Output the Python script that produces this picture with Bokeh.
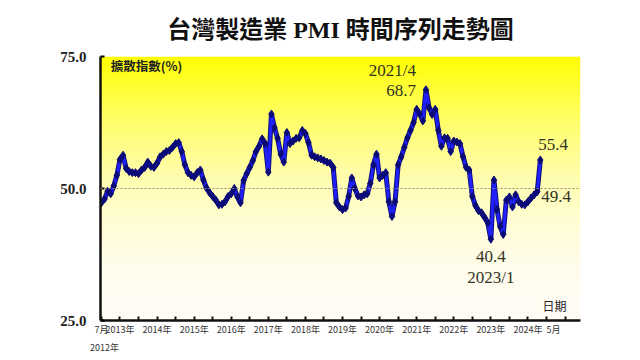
from bokeh.plotting import figure
from bokeh.models import Range1d, Span, Label, FixedTicker, LinearAxis
from bokeh.embed import file_html
from bokeh.resources import INLINE
import numpy as np

# Monthly PMI, 2012-07 .. 2024-05 (index 0 = 2012-07)
pmi = [
    47.3, 48.0, 49.5, 49.0, 50.5, 52.5,                                  # 2012 Jul-Dec
    55.5, 56.3, 53.8, 53.2, 53.0, 53.0, 52.8, 53.5, 54.0, 55.0, 54.2, 54.0,  # 2013
    54.8, 56.0, 56.5, 57.0, 57.2, 57.8, 58.5, 58.7, 57.0, 54.5, 53.0, 52.5,  # 2014
    52.2, 53.0, 53.5, 51.6, 50.1, 49.2, 48.5, 47.8, 46.9, 47.0, 47.5, 48.5,  # 2015
    49.0, 50.0, 48.4, 47.3, 51.5, 52.8, 54.0, 55.3, 57.0, 58.0, 59.4, 58.5,  # 2016
    53.1, 64.1, 61.5, 59.5, 56.5, 55.0, 60.6, 58.5, 59.0, 59.5, 59.6, 61.0,  # 2017
    60.4, 58.7, 56.3, 56.0, 55.8, 55.6, 55.3, 55.0, 54.8, 54.0, 47.3, 46.5,  # 2018
    46.0, 46.3, 48.5, 52.0, 50.0, 48.6, 48.4, 48.8, 49.0, 51.0, 54.5, 56.5,  # 2019
    52.0, 52.5, 53.0, 47.5, 44.7, 47.5, 54.5, 56.0, 57.8, 59.6, 61.0, 62.5,  # 2020
    65.0, 64.1, 62.8, 68.7, 65.3, 64.0, 65.0, 61.0, 58.0, 59.6, 59.5, 57.0,  # 2021
    59.0, 58.8, 58.5, 56.0, 54.0, 53.5, 48.5, 46.8, 45.8, 45.4, 44.5, 43.5,  # 2022
    40.4, 51.6, 46.0, 42.8, 41.3, 47.8, 48.4, 46.5, 48.8, 47.5, 47.0, 46.9,  # 2023
    47.5, 48.2, 48.8, 49.4, 55.4,                                          # 2024 Jan-May
]
months = list(range(len(pmi)))

tick_years = list(range(2013, 2025))
tick_year_labels = [f"{y}年" for y in tick_years]
first_month_label = "7月"
first_year_label = "2012年"
last_month_label = "5月"
y_ticks = [25, 50, 75]
y_tick_labels = ["25.0", "50.0", "75.0"]

peak_i = int(np.argmax(pmi))
low_i = int(np.argmin(pmi))
last_i = len(pmi) - 1
prev_i = len(pmi) - 2
peak_date = "2021/4"
low_date = "2023/1"

serif = "'Liberation Serif', 'Noto Sans CJK TC', serif"
cjk = "'Noto Sans CJK TC', sans-serif"
ann_color = "#33331f"

p = figure(width=632, height=356, output_backend="svg", toolbar_location=None,
           x_range=Range1d(-0.3, 155), y_range=Range1d(25, 75),
           min_border_left=100, min_border_right=52, min_border_top=55,
           min_border_bottom=34)
p.background_fill_color = "white"
p.border_fill_color = "white"
p.outline_line_color = None
p.xgrid.visible = False
p.ygrid.visible = False

p.title.text = "台灣製造業 PMI 時間序列走勢圖"
p.title.text_font = serif
p.title.text_font_size = "24px"
p.title.text_font_style = "bold"
p.title.text_color = "#111111"
p.title.align = "center"
p.title.offset = 2
p.title.standoff = 28

# gradient background (yellow top -> near white bottom)
H = 200
t = np.linspace(0, 1, H)
b = (245 * (1 - t ** 2)).astype(np.uint8)
g = (255 - 3 * (1 - t)).astype(np.uint8)
img = np.zeros((H, 2, 4), dtype=np.uint8)
img[:, :, 0] = 255
img[:, :, 1] = g[:, None]
img[:, :, 2] = b[:, None]
img[:, :, 3] = 255
p.image_rgba(image=[img.view(np.uint32).reshape(H, 2)], x=-0.3, y=25, dw=155.3, dh=50)

p.add_layout(Span(location=50, dimension="width", line_color="#9a8a70",
                  line_dash="2 2", line_width=1))

# series
p.line(months, pmi, line_color="#10107a", line_width=5)
p.line(months, pmi, line_color="#2020ff", line_width=3)
p.scatter(months, pmi, marker="diamond", size=8, fill_color="#0b0b78",
          line_color="#0b0b78")

# main x axis: line + inward ticks every 6 months, no labels
xticks = [m for m in range(0, 156, 6)]
p.xaxis.ticker = FixedTicker(ticks=xticks)
p.xaxis.major_label_overrides = {m: "" for m in xticks}
p.xaxis.major_label_text_font_size = "1px"
p.xaxis.major_label_standoff = 0
p.xaxis.axis_line_width = 2.5
p.xaxis.axis_line_color = "#111111"
p.xaxis.major_tick_in = 4
p.xaxis.major_tick_out = 0
p.xaxis.major_tick_line_width = 2
p.xaxis.major_tick_line_color = "#111111"
p.xaxis.minor_tick_line_color = None

# label rows under the axis
label_pos = [0] + [(y - 2012) * 12 - 6 for y in tick_years] + [146.3]
label_txt = [first_month_label] + tick_year_labels + [last_month_label]
row1 = LinearAxis(ticker=FixedTicker(ticks=label_pos),
                  major_label_overrides={k: v for k, v in zip(label_pos, label_txt)},
                  axis_line_color=None, major_tick_line_color=None,
                  minor_tick_line_color=None, major_tick_in=0, major_tick_out=0,
                  major_label_standoff=2, major_label_text_font=cjk,
                  major_label_text_font_size="9px", major_label_text_color="#333333")
p.add_layout(row1, "below")
row2 = LinearAxis(ticker=FixedTicker(ticks=[1]),
                  major_label_overrides={1: first_year_label},
                  axis_line_color=None, major_tick_line_color=None,
                  minor_tick_line_color=None, major_tick_in=0, major_tick_out=0,
                  major_label_standoff=2, major_label_text_font=cjk,
                  major_label_text_font_size="9px", major_label_text_color="#333333")
p.add_layout(row2, "below")

p.yaxis.ticker = FixedTicker(ticks=y_ticks)
p.yaxis.major_label_overrides = {v: s for v, s in zip(y_ticks, y_tick_labels)}
p.yaxis.axis_line_width = 2.5
p.yaxis.axis_line_color = "#111111"
p.yaxis.major_tick_in = 4
p.yaxis.major_tick_out = 0
p.yaxis.major_tick_line_width = 2
p.yaxis.minor_tick_line_color = None
p.yaxis.major_label_text_font = serif
p.yaxis.major_label_text_font_size = "15px"
p.yaxis.major_label_text_font_style = "bold"
p.yaxis.major_label_text_color = "#222222"
p.yaxis.major_label_standoff = 14

# in-plot labels
p.add_layout(Label(x=3, y=75, text="擴散指數(%)", x_offset=0, y_offset=-9,
                   text_align="left", text_baseline="middle",
                   text_font=cjk, text_font_size="12.5px", text_font_style="bold",
                   text_color="#222222"))
p.add_layout(Label(x=155, y=25, text="日期", x_offset=-14, y_offset=15,
                   text_align="right", text_baseline="middle",
                   text_font=cjk, text_font_size="12px", text_color="#222222"))

# annotations
def ann(xi, yv, txt, xo, yo, align):
    p.add_layout(Label(x=xi, y=yv, text=txt, x_offset=xo, y_offset=yo,
                       text_align=align, text_baseline="middle",
                       text_font=serif, text_font_size="17px",
                       text_color=ann_color))

ann(peak_i, pmi[peak_i], f"{pmi[peak_i]:.1f}", -10, -1, "right")
ann(peak_i, pmi[peak_i], peak_date, -10, 19, "right")
ann(low_i, pmi[low_i], f"{pmi[low_i]:.1f}", 0, -17, "center")
ann(low_i, pmi[low_i], low_date, 0, -38, "center")
ann(last_i, pmi[last_i], f"{pmi[last_i]:.1f}", -2, 15, "left")
ann(prev_i, pmi[prev_i], f"{pmi[prev_i]:.1f}", 4, -5, "left")

open("out.html", "w").write(file_html(p, INLINE))
